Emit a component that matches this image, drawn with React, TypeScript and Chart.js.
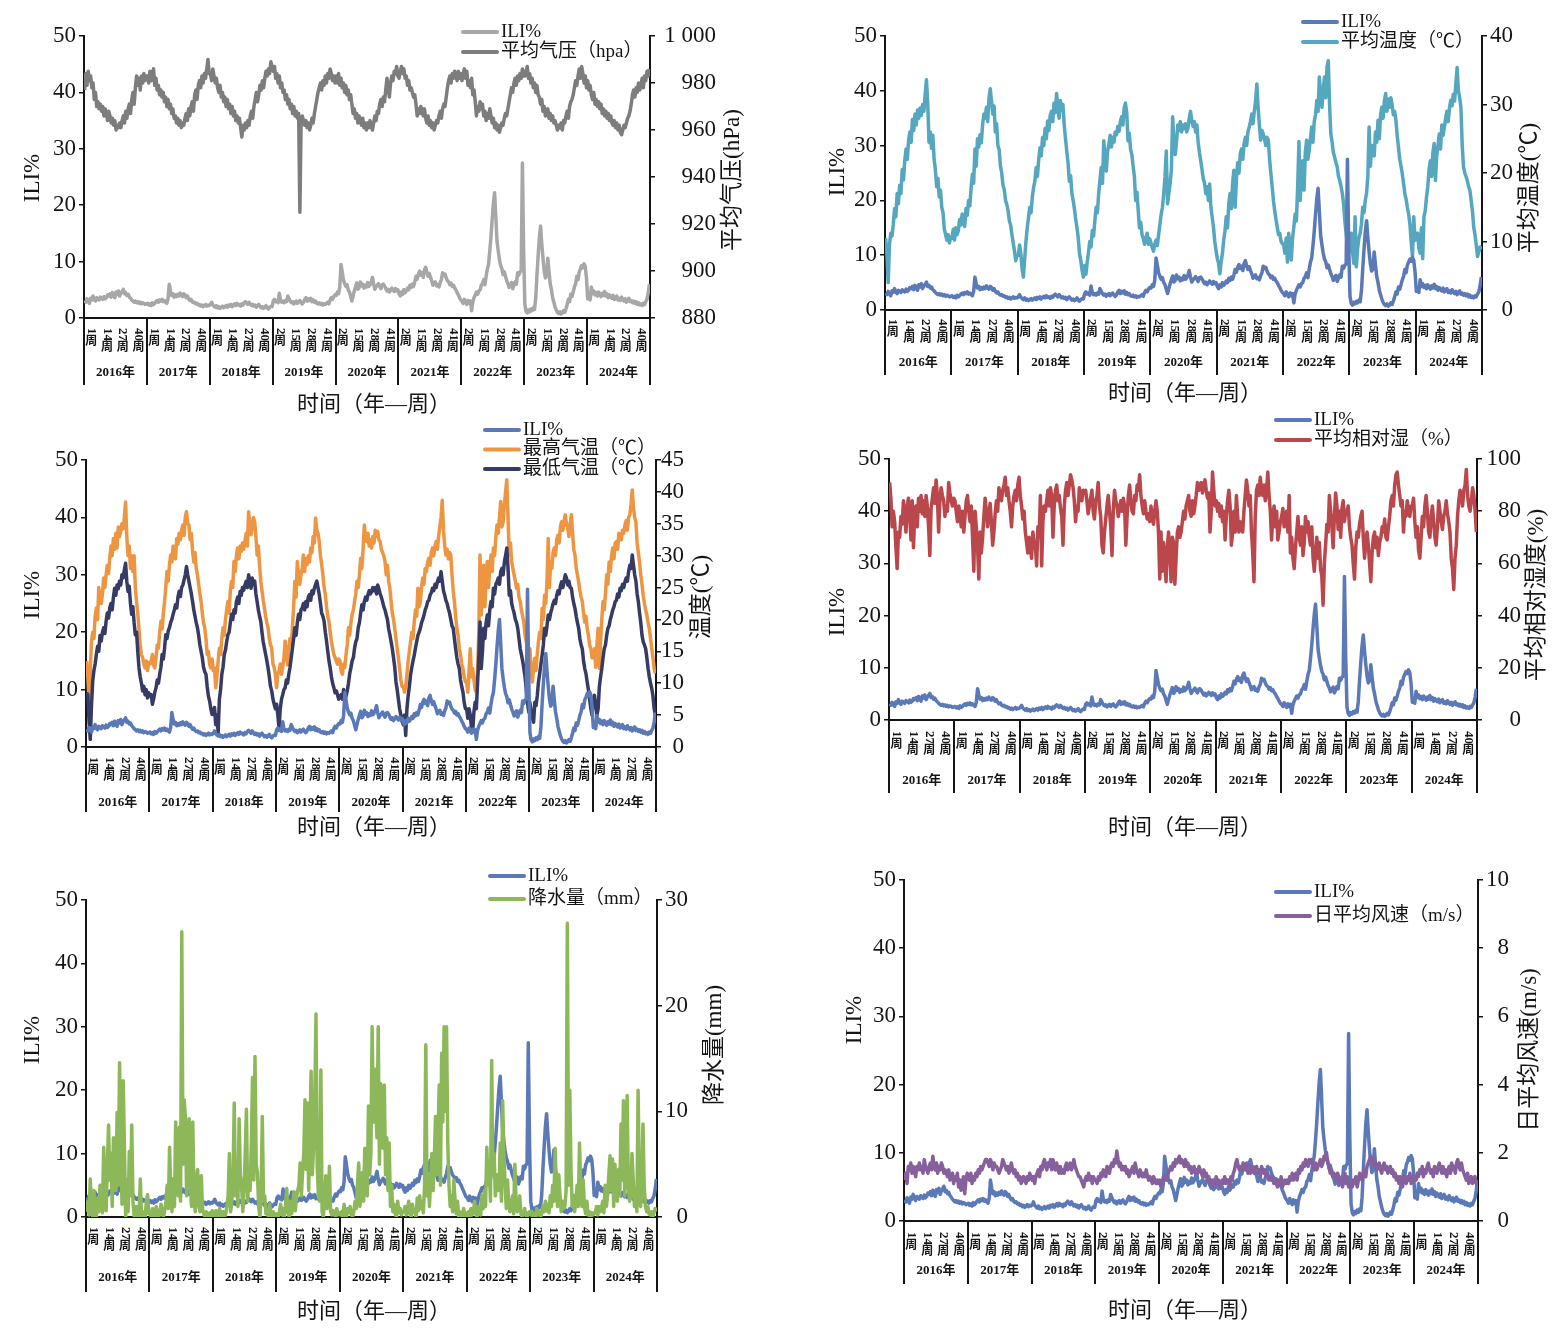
import React, { useEffect, useRef } from "react";
import { Chart, registerables } from "chart.js";

Chart.register(...registerables);

// ---- categories / ticks ----
const YEARS = ["2016年", "2017年", "2018年", "2019年", "2020年", "2021年", "2022年", "2023年", "2024年"];
const WEEKS_PER_YEAR = 52;
const WEEK_TICKS = [
  ["1", "14", "27", "40"],
  ["1", "14", "27", "40"],
  ["1", "14", "27", "40"],
  ["2", "15", "28", "41"],
  ["2", "15", "28", "41"],
  ["2", "15", "28", "41"],
  ["2", "15", "28", "41"],
  ["2", "15", "28", "41"],
  ["1", "14", "27", "40"],
];

// ---- weekly series, one row per year (52 weeks) ----
const iliPct = [
  [3.1,2.8,3.4,3.0,2.6,3.5,3.2,3.9,3.3,3.0,3.6,3.4,3.2, 3.7,3.5,3.3,3.8,3.4,3.6,4.1,3.9,4.3,3.7,4.5,4.1,3.6, 4.6,4.2,4.8,3.9,4.4,4.7,5.1,4.3,4.5,4.0,4.2,3.7,3.5, 3.2,3.0,2.8,3.0,2.7,2.9,2.6,2.8,2.5,2.7,2.6,2.4,2.5],
  [2.6,2.3,2.5,2.2,2.7,2.4,2.6,2.9,3.1,2.8,3.2,3.0,3.3, 2.9,3.1,2.8,2.6,3.4,6.0,4.8,4.0,4.3,3.7,4.1,3.8,4.2, 3.9,4.4,4.0,3.8,4.3,4.1,3.6,3.9,3.4,3.1,3.3,2.9,2.7, 2.8,2.5,2.6,2.3,2.4,2.1,2.3,2.0,2.2,2.4,2.1,2.3,2.2],
  [2.4,2.8,2.3,2.1,1.9,2.2,1.8,2.0,1.7,1.9,2.1,1.8,2.0, 2.2,1.9,2.3,2.1,2.4,2.0,2.3,2.5,2.2,2.6,2.3,2.4,2.1, 2.5,2.3,2.7,2.9,2.6,2.4,2.8,2.5,2.2,2.4,2.1,2.3,1.9, 2.2,2.4,2.1,1.8,2.0,1.7,1.9,2.2,1.8,1.6,1.9,2.1,2.0],
  [3.0,3.3,2.9,3.1,2.7,4.4,3.2,2.8,3.0,2.7,3.1,2.9,3.9, 3.4,3.0,2.7,2.9,2.5,2.8,3.0,2.6,2.9,3.1,2.7,2.5,2.8, 3.3,3.6,3.0,3.4,3.1,3.5,2.9,3.2,2.8,3.0,2.6,2.5,2.7, 2.4,2.6,2.3,2.5,2.4,2.6,2.8,2.5,3.2,3.6,3.3,3.8,4.1],
  [4.0,4.6,4.3,5.5,9.5,8.2,6.8,6.1,5.6,5.9,5.0,4.6,3.8, 3.0,3.9,4.8,5.5,6.2,5.1,5.4,6.4,5.7,6.0,5.3,5.8,5.5, 6.3,5.6,5.9,6.4,7.2,6.0,5.1,5.5,5.8,6.1,5.6,5.2,5.9, 6.0,5.7,5.2,4.8,5.1,4.6,4.9,5.3,5.0,4.7,5.2,4.8,5.0],
  [4.3,3.9,4.6,4.2,5.0,4.5,4.8,5.3,5.0,5.8,5.4,6.0,5.6, 6.4,7.4,6.9,7.8,8.3,7.6,8.0,7.2,8.5,9.0,8.1,7.4,7.9, 7.2,6.6,5.8,6.2,6.4,5.7,5.9,5.5,6.3,6.8,8.0,7.6,7.8, 7.1,6.6,6.4,5.9,6.2,5.6,5.8,5.3,5.0,4.5,4.1,3.6,3.2],
  [3.0,2.6,3.3,2.8,2.4,3.1,2.6,3.0,1.3,2.9,3.6,4.1,4.6, 4.2,4.8,5.0,5.8,6.1,6.8,5.9,7.4,8.7,9.5,11.8,14.4,17.5, 20.3,22.2,18.0,13.6,11.9,10.4,9.3,8.8,7.7,8.2,7.4,6.6,6.1, 5.4,5.9,6.3,5.2,5.8,6.4,6.0,8.0,7.6,8.2,8.4,27.5,12.0],
  [2.5,1.2,0.9,1.4,1.1,1.6,1.3,1.8,1.5,3.5,7.5,11.0,14.2, 16.3,13.2,10.6,8.4,7.1,7.5,10.6,8.2,6.1,5.0,3.6,2.8,2.0, 1.4,1.0,0.8,1.1,0.7,0.9,1.3,1.0,1.6,2.4,3.3,2.9,4.2, 3.8,4.6,5.5,6.1,7.4,6.8,8.2,8.7,9.3,8.9,9.6,9.1,7.0],
  [3.4,3.9,3.2,5.5,4.3,4.8,4.1,4.5,3.9,4.6,4.2,3.8,4.4, 4.0,4.7,3.9,4.3,3.6,4.1,3.7,3.5,4.0,3.3,3.6,3.9,3.2, 3.5,3.1,3.7,3.3,3.0,3.4,2.8,3.2,3.5,2.9,3.1,2.7,3.0, 2.6,2.9,2.4,2.7,2.3,2.5,2.2,2.6,2.4,2.9,3.3,4.4,6.0],
];

const pressureHpa = [
  [977,984,979,985,981,983,978,980,973,976,970,972,969, 971,968,970,966,969,967,964,968,966,963,965,962,964, 960,962,961,963,961,964,966,963,968,965,969,971,967, 973,976,971,978,983,979,982,977,983,980,984,981,983],
  [983,980,985,981,984,986,979,982,977,979,975,977,974, 976,972,974,970,973,969,971,967,969,965,966,963,965, 962,964,961,963,962,965,967,964,969,966,970,972,968, 975,977,973,979,981,978,983,980,984,982,986,990,984],
  [984,981,986,983,980,982,978,976,979,974,976,972,974, 970,973,969,971,967,970,966,968,964,966,963,965,961, 957,962,960,963,961,964,962,966,968,965,970,973,976, 972,975,979,977,981,978,982,985,983,986,984,989,987],
  [985,987,982,984,980,983,978,980,976,977,973,975,971, 973,969,971,967,970,966,968,965,967,925,963,966,964, 962,964,961,963,960,962,965,963,967,970,973,976,978, 980,977,981,979,983,980,984,982,986,984,981,983,980],
  [983,980,984,979,982,978,980,976,979,975,977,973,975, 971,967,969,965,967,963,966,964,962,965,961,963,960, 963,961,964,962,960,963,966,964,968,967,971,973,970, 974,972,977,982,978,974,980,983,981,985,984,987,983],
  [982,985,987,984,986,982,983,979,981,977,978,976,974, 975,971,966,969,967,970,968,966,969,965,963,966,962, 964,961,963,960,962,964,963,966,968,965,969,971,970, 974,978,981,983,980,984,982,985,983,981,985,982,984],
  [981,984,986,982,985,979,981,978,982,975,977,972,966, 970,968,972,969,971,966,968,964,967,965,969,966,963, 965,961,963,960,962,959,961,963,962,965,967,966,969, 972,975,978,976,980,982,979,983,981,984,982,986,983],
  [983,985,987,982,984,980,982,978,980,976,979,975,974, 971,973,968,970,966,967,969,965,967,964,966,963,964, 962,960,962,961,963,960,964,963,966,968,965,970,972, 973,975,978,981,979,983,986,982,987,984,980,983,978],
  [981,977,979,975,973,976,971,973,970,972,969,971,967, 969,966,968,965,967,964,966,963,962,964,961,963,960, 962,959,958,960,962,961,963,965,966,968,971,975,977, 974,978,976,980,977,979,982,978,983,981,985,983,986],
];

const meanTempC = [
  [10.5,8.2,4.0,9.5,11.2,10.8,12.5,14.8,13.6,17.0,15.5,18.2,17.0, 20.5,19.0,21.8,23.5,22.0,24.8,26.0,24.5,27.8,26.2,28.6,27.0,29.2, 28.0,29.5,28.4,30.0,29.0,31.5,33.6,30.2,24.5,26.0,23.6,25.5,22.0, 20.5,18.0,19.2,16.5,17.5,15.0,14.2,11.8,11.0,10.2,11.0,9.8,10.6],
  [10.5,11.8,10.2,12.0,11.0,11.6,13.2,12.4,14.0,13.0,12.2,14.8,13.8, 16.0,15.2,17.8,19.8,18.5,23.5,21.0,25.0,23.8,25.6,24.4,27.0,28.6, 28.0,29.6,27.5,30.8,32.3,30.5,28.6,29.8,26.0,27.2,24.0,23.4,21.0, 20.0,18.2,17.6,16.0,15.4,14.5,13.0,12.4,11.0,9.8,8.6,7.2,8.0],
  [8.0,9.5,8.2,6.0,4.8,7.5,10.0,12.0,13.5,15.0,14.2,16.5,17.9, 18.8,20.8,19.5,22.0,23.7,22.5,25.2,24.0,26.5,25.0,27.6,26.2,28.4, 29.0,27.5,30.2,28.8,31.6,29.5,28.0,30.6,29.2,30.0,27.0,25.0,23.2, 21.5,18.8,19.6,17.0,16.0,14.8,13.2,12.0,10.5,8.2,7.2,5.8,4.8],
  [6.5,5.2,7.0,8.4,10.0,9.2,11.6,10.8,13.0,15.0,14.2,17.0,19.0, 20.8,18.5,24.7,22.0,20.3,23.2,24.2,25.5,23.8,25.2,24.5,26.0,25.6, 26.8,26.1,27.5,28.2,27.0,29.5,30.2,28.8,24.7,25.8,23.5,22.7,21.0, 19.5,16.0,17.2,14.5,12.0,12.8,11.0,10.4,9.6,10.5,11.2,9.6,10.4],
  [9.8,9.1,8.6,9.6,10.2,9.4,11.0,12.5,14.0,15.0,17.0,19.5,23.2, 15.5,17.0,18.4,20.5,28.2,24.0,22.7,24.5,27.0,26.2,27.5,26.0,27.0, 26.5,27.2,26.0,26.6,28.0,29.0,27.6,26.8,27.5,26.0,27.0,24.5,23.0, 21.8,20.5,19.2,18.5,17.0,18.0,16.0,18.4,15.0,13.5,12.1,10.0,8.7],
  [7.5,6.8,5.3,7.0,8.2,10.2,11.5,13.6,12.0,15.5,17.0,14.8,18.5, 20.4,15.0,19.2,21.5,20.0,22.8,23.5,22.0,24.3,25.2,24.0,26.0,26.7, 27.5,28.6,27.2,29.0,30.5,33.0,29.5,27.0,24.8,26.2,25.7,25.0,24.0, 25.2,24.8,22.0,19.9,18.0,16.0,14.5,13.2,12.1,11.0,11.2,10.0,9.7],
  [9.5,8.3,10.5,7.0,11.2,9.0,7.3,10.5,12.1,14.0,13.0,18.0,24.6, 16.0,20.5,21.8,17.5,23.0,24.8,22.0,23.3,25.0,26.7,24.5,27.5,28.5, 30.6,29.0,34.0,31.5,29.6,32.0,34.0,31.0,35.5,36.4,30.0,25.7,24.5, 23.0,22.3,21.5,20.9,19.5,18.9,18.0,17.0,15.5,13.0,11.2,9.5,8.3],
  [9.0,11.2,8.5,6.8,13.6,6.3,9.0,10.5,11.2,12.5,15.0,14.2,16.0, 17.0,19.5,26.7,21.0,24.0,23.3,22.5,26.0,24.5,27.7,25.0,28.5,29.6, 28.0,30.5,31.6,29.0,30.8,29.6,31.0,30.0,28.5,29.0,27.7,25.5,23.8, 22.0,21.0,19.9,18.5,17.0,16.2,15.0,14.0,12.5,10.0,7.8,13.6,10.2],
  [10.5,11.2,9.0,8.3,12.0,7.5,13.6,14.5,16.5,18.0,20.5,21.8,19.5, 23.0,24.3,18.9,22.5,24.0,25.7,23.5,27.0,25.5,26.7,28.0,29.0,27.5, 29.5,30.6,29.8,31.5,30.5,33.0,35.4,32.0,31.0,29.5,24.0,20.9,20.0, 19.5,18.9,18.0,17.5,16.0,14.5,12.1,11.0,9.5,7.8,8.5,9.2,8.8],
];

const maxTempC = [
  [13.5,11.0,7.5,12.0,16.5,18.0,17.0,20.5,21.8,20.0,25.0,23.0,22.5, 24.0,26.5,25.0,27.0,28.5,27.2,29.6,31.5,30.0,32.7,31.0,33.5,31.2, 34.5,33.0,33.8,35.0,34.2,36.0,38.4,33.0,30.0,31.5,28.0,30.0,27.5, 30.0,25.0,22.8,21.0,18.5,16.0,14.5,14.0,13.0,12.4,13.5,12.0,13.2],
  [13.0,13.5,14.5,12.8,12.4,14.0,16.0,15.5,18.0,19.7,18.5,21.0,22.8, 25.0,27.5,26.0,28.5,30.1,29.0,31.5,30.7,29.5,32.7,31.8,33.5,32.5, 34.0,34.8,33.2,36.0,36.9,35.0,34.8,32.5,33.5,30.7,29.0,30.5,28.0, 27.0,25.5,24.0,22.8,21.0,19.5,18.7,17.0,14.5,15.0,13.0,12.4,13.8],
  [12.0,12.4,9.3,11.0,13.5,15.5,14.5,17.0,18.7,17.5,20.0,21.5,22.8, 21.0,24.5,26.0,25.0,29.1,27.5,30.0,31.2,29.5,31.5,30.7,32.0,31.0, 32.2,33.5,31.5,36.9,35.0,33.3,34.5,36.0,35.3,33.0,30.1,31.5,28.5, 26.0,24.5,23.0,21.8,20.5,19.5,18.7,17.0,16.0,15.5,13.0,12.5,11.4],
  [9.3,11.5,11.9,13.0,11.4,12.5,14.0,16.6,14.5,12.9,15.5,17.0,16.0, 18.7,22.0,26.0,23.5,29.1,27.0,25.5,27.0,28.0,30.1,27.5,29.5,28.6, 30.0,29.0,31.2,30.5,33.0,32.0,35.9,34.0,33.5,32.2,30.0,28.6,27.0, 25.0,23.9,22.0,20.5,19.7,18.0,16.5,15.5,14.5,14.0,13.5,13.0,13.8],
  [13.5,12.0,11.4,13.0,12.5,14.5,16.0,18.7,17.5,19.5,20.8,21.5,22.8, 24.0,26.0,25.0,27.0,29.6,28.0,31.0,34.8,33.0,32.2,33.5,31.5,32.5, 31.2,33.0,32.0,34.0,33.0,33.8,32.5,32.2,31.0,30.5,30.0,29.1,27.0, 28.5,26.0,24.9,22.8,21.0,20.0,18.6,17.0,15.5,14.0,12.3,10.5,9.5],
  [9.5,8.6,9.5,11.3,13.5,15.0,16.5,18.0,17.0,19.6,21.5,20.5,24.9, 22.0,22.8,25.0,26.5,25.5,28.0,27.5,29.0,29.6,28.5,30.5,31.2,30.0, 31.5,32.2,31.0,33.0,34.5,36.0,38.7,34.0,31.5,30.1,31.0,29.5,30.5, 30.1,27.0,24.5,22.8,20.5,18.6,17.5,15.4,14.5,13.0,12.3,11.0,10.2],
  [10.2,8.6,12.0,15.4,11.0,12.3,10.5,9.0,8.6,12.0,18.0,30.1,20.7, 24.0,28.5,22.0,26.5,29.1,25.0,28.0,30.1,27.5,31.2,30.0,33.0,34.8, 33.5,36.0,38.5,34.5,35.3,38.0,40.0,41.9,36.0,30.1,32.0,29.0,28.0, 27.0,26.0,24.9,25.5,23.5,22.8,21.5,20.5,19.6,17.5,16.5,15.4,13.0],
  [15.4,12.0,10.2,12.5,13.9,12.0,14.5,16.5,18.0,17.0,21.7,20.0,23.8, 22.5,26.0,32.7,25.0,29.0,28.0,30.5,31.2,30.0,32.5,33.2,32.0,34.5, 35.3,34.0,35.5,36.4,35.0,34.3,33.0,35.0,36.4,33.5,31.0,30.1,28.0, 27.0,25.9,24.5,23.5,22.8,21.0,19.6,20.5,18.6,17.5,16.0,15.4,14.0],
  [14.0,15.4,12.5,16.0,18.6,12.3,16.5,20.0,22.8,21.5,24.0,27.0,25.5, 29.0,27.5,30.0,31.2,29.5,32.0,32.2,31.0,33.5,33.2,32.5,34.0,33.5, 34.8,35.5,34.0,36.0,36.4,38.0,40.3,37.5,36.0,35.3,32.0,30.5,29.0, 27.0,25.5,23.8,22.5,21.5,20.7,19.5,18.6,17.0,15.4,14.0,12.3,11.5],
];

const minTempC = [
  [8.5,8.2,4.0,1.2,6.5,10.3,12.0,13.0,14.5,15.8,15.0,17.5,16.6, 18.0,18.7,17.8,19.7,21.0,20.2,21.8,22.5,21.5,23.5,24.9,23.8,25.4, 24.8,26.0,25.4,27.0,26.5,27.8,28.8,26.0,24.4,25.2,22.5,20.8,22.0, 19.5,17.6,18.0,15.0,12.4,11.0,10.0,8.8,9.5,8.2,9.0,7.7,8.5],
  [8.0,8.2,6.7,7.5,8.6,9.3,10.5,10.0,11.4,12.5,14.5,13.8,15.5, 17.6,17.0,18.2,18.7,19.5,20.0,20.8,21.5,22.3,21.8,23.5,24.4,23.6, 25.0,25.4,26.2,27.0,28.3,27.0,26.0,25.0,24.0,22.8,21.5,20.5,19.5, 18.7,17.5,16.0,15.0,14.0,12.5,11.8,11.4,9.5,8.0,7.2,6.0,5.1],
  [5.5,6.2,3.5,5.0,2.2,7.5,9.0,11.4,12.5,14.5,15.2,16.5,17.6, 18.0,19.5,20.8,20.0,21.5,21.0,22.8,23.5,22.5,24.4,23.8,25.0,24.6, 25.4,26.0,25.0,27.0,26.2,24.9,26.5,25.5,26.0,24.0,22.8,21.5,20.5, 19.7,18.0,16.5,15.5,14.5,13.5,12.4,11.0,9.5,8.8,7.5,6.7,6.0],
  [6.7,5.0,3.0,6.0,7.5,8.2,9.0,9.3,10.5,10.0,11.4,12.5,14.0, 15.5,17.0,18.7,17.5,19.5,20.8,20.0,21.5,21.8,22.5,21.5,22.8,22.0, 23.5,23.9,23.0,24.5,24.0,24.9,25.5,26.0,25.0,23.9,22.5,21.0,20.5, 19.7,18.0,16.6,15.0,13.5,12.4,11.0,10.0,9.3,8.5,8.8,8.2,7.5],
  [8.0,8.2,7.5,9.0,7.2,8.0,8.8,10.0,11.5,12.4,13.5,14.0,15.5, 16.5,17.0,18.7,19.5,21.0,22.3,21.5,22.8,23.5,23.0,23.9,24.5,24.0, 24.4,25.0,24.5,25.0,24.0,25.4,24.8,24.0,23.5,22.8,22.0,21.5,20.7, 20.0,18.5,17.6,16.5,15.4,14.0,12.5,10.2,9.0,7.5,6.0,5.0,4.0],
  [3.5,5.0,1.8,6.0,8.0,9.5,11.3,12.5,13.5,14.4,15.5,16.5,17.5, 18.0,18.6,19.5,20.0,20.7,21.5,22.0,22.8,23.0,23.8,24.2,24.9,24.5, 25.5,25.0,25.9,26.5,26.0,27.5,26.0,24.5,23.8,23.0,22.5,21.7,21.0, 20.0,19.0,18.6,17.0,15.4,14.0,13.0,12.3,10.5,9.5,8.6,7.0,6.0],
  [6.0,4.5,6.0,5.0,3.0,2.4,5.5,7.0,6.0,10.0,14.0,19.6,12.3, 15.0,18.6,17.0,19.5,20.7,19.0,21.5,22.8,22.0,24.9,24.0,25.5,25.9, 26.5,25.5,27.5,28.0,27.0,29.0,30.0,31.2,28.0,23.8,24.5,22.5,21.7, 21.0,20.0,19.5,18.6,17.0,15.4,14.5,13.5,12.3,11.0,9.0,7.0,5.5],
  [7.0,5.5,4.5,3.9,7.0,6.5,8.0,10.2,11.5,13.0,14.4,16.0,18.6, 17.5,19.0,20.7,20.0,21.0,21.7,22.5,23.0,22.5,23.8,24.5,24.0,25.2, 25.9,25.0,26.0,27.0,26.5,25.4,26.0,25.0,24.9,23.5,22.5,21.7,20.5, 19.5,18.6,17.0,16.0,15.4,13.5,12.3,11.5,10.2,9.0,7.5,6.0,5.0],
  [7.5,8.1,6.5,5.0,6.0,9.5,11.0,12.3,14.0,15.4,16.0,17.5,18.6, 19.0,20.0,20.7,21.5,22.0,22.8,23.0,24.0,23.5,24.9,24.5,25.5,25.0, 25.9,26.5,26.0,27.5,28.5,28.0,30.1,28.5,27.0,26.0,24.0,22.8,21.0, 19.5,17.5,16.5,16.0,15.4,14.0,12.3,11.0,10.0,9.2,8.0,6.0,5.0],
];

const humidityPct = [
  [91,85,74,80,76,66,58,72,70,78,75,84,79, 72,82,85,78,69,84,66,80,82,74,85,80,86, 79,84,78,86,82,74,63,81,85,89,83,92,86, 72,84,89,86,84,78,82,80,91,87,84,82,85],
  [84,80,76,82,79,74,80,72,78,84,86,80,76, 82,70,57,80,74,66,54,72,64,70,78,85,80, 74,79,83,76,67,72,79,84,80,89,85,84,88, 90,93,86,89,84,80,74,82,86,88,84,90,93],
  [86,82,77,80,72,68,64,70,66,62,72,68,67, 59,74,70,86,59,76,82,80,84,88,82,89,86, 70,82,88,90,84,86,81,78,67,82,88,91,86, 90,94,92,89,84,76,82,80,89,86,84,88,87],
  [88,84,79,82,85,88,80,77,84,86,91,82,78, 67,64,72,77,82,86,80,74,63,80,88,84,82, 78,81,84,80,85,82,67,78,86,90,84,80,79, 86,84,90,88,94,86,82,79,84,80,77,79,76],
  [82,78,75,80,84,80,72,54,72,57,68,62,53, 66,72,64,53,70,68,52,62,72,74,70,72,76, 80,77,82,84,86,80,78,84,79,82,86,91,88, 90,91,87,89,92,88,85,87,72,80,95,88,82],
  [84,80,83,78,82,76,80,69,78,84,88,82,67, 72,80,72,86,78,72,76,74,72,80,86,92,88, 82,86,72,64,53,78,88,90,86,93,88,86,90, 84,88,95,86,80,69,78,82,74,80,69,72,76],
  [78,81,74,77,80,72,86,64,70,62,58,66,72, 78,70,67,74,63,68,78,72,76,70,67,74,62, 57,64,70,62,68,58,55,44,60,67,75,72,86, 80,74,66,78,87,82,73,80,70,81,84,76,80],
  [80,82,74,70,67,60,54,66,72,70,75,78,80, 70,62,68,72,67,60,53,64,70,72,66,70,63, 68,70,74,72,77,70,69,74,78,84,86,82,90, 94,95,90,86,82,84,72,80,78,84,80,78,82],
  [82,85,76,70,74,65,62,70,78,74,82,86,80, 72,70,78,82,76,70,67,74,84,80,76,73,78, 80,84,79,76,72,62,58,50,62,67,78,84,88, 86,82,88,90,96,86,82,80,84,89,86,80,72],
];

const rainMm = [
  [0.5,1.5,0.2,3.6,1.0,0.0,2.5,0.3,0.0,1.8,0.5,3.0,1.2, 0.4,6.6,2.0,0.6,5.0,8.7,3.5,6.0,1.0,7.5,4.0,2.5,9.9, 3.0,14.6,8.0,1.2,12.9,6.5,0.0,3.5,0.5,6.2,2.0,8.7,1.5, 0.0,0.3,1.0,0.0,0.2,3.6,0.0,0.5,0.2,0.0,1.5,2.1,0.3],
  [0.3,0.0,0.8,0.2,0.0,1.0,0.5,0.0,0.3,1.2,0.4,0.0,0.6, 1.5,3.0,0.8,6.6,2.5,0.5,3.6,1.0,9.0,4.0,2.0,8.5,1.5, 27.0,5.0,11.1,9.3,2.0,6.0,9.3,3.0,1.0,9.0,2.0,0.5,3.5, 4.5,1.0,0.5,3.9,0.8,0.3,0.0,0.5,0.2,0.0,0.4,0.0,0.6],
  [0.2,0.0,0.6,0.3,0.0,0.8,0.2,0.0,0.5,0.0,0.3,1.0,2.0, 6.0,0.5,1.5,3.5,10.8,2.0,5.0,1.0,9.3,4.0,3.0,0.5,2.5, 6.0,10.2,1.5,4.0,2.5,7.0,13.2,3.5,15.2,5.0,4.2,1.0,0.0, 2.0,9.5,1.5,2.0,0.3,0.5,0.0,1.2,0.3,0.0,0.5,0.2,0.0],
  [0.3,0.0,0.5,1.2,0.2,0.8,0.0,1.0,2.7,0.5,0.0,1.5,0.3, 1.0,2.4,0.6,1.8,2.5,3.0,5.1,2.0,4.2,6.0,11.1,4.5,10.8, 2.5,8.0,13.8,4.0,6.5,11.0,19.2,4.8,2.0,1.5,13.9,0.5,0.0, 1.5,3.9,0.8,1.0,4.8,0.5,0.2,0.6,0.3,0.0,0.8,0.2,0.4],
  [0.2,0.5,0.0,1.2,0.3,0.0,0.8,0.4,1.0,0.2,0.0,0.5,1.5, 0.8,3.0,5.1,1.0,2.5,4.2,1.5,6.5,3.5,2.0,10.5,4.0,6.0, 18.0,9.0,14.0,10.2,7.5,18.0,5.0,12.6,10.0,6.5,12.5,4.0,7.5, 2.5,7.0,1.0,3.0,0.5,1.2,0.3,0.0,1.5,0.4,0.8,0.2,0.5],
  [0.5,1.0,0.2,0.8,1.5,0.3,0.0,1.2,0.5,0.5,0.0,1.8,0.6, 2.0,0.8,1.5,0.4,3.0,16.3,2.0,4.0,1.0,3.5,6.0,2.5,5.5, 9.5,4.0,7.5,12.5,3.0,15.5,9.0,18.0,10.0,18.0,7.0,3.0,1.0, 2.0,0.5,3.5,1.5,0.3,1.5,0.0,0.5,0.2,0.0,0.8,0.3,0.0],
  [0.3,0.5,0.0,0.8,0.2,0.5,1.5,0.3,0.0,1.0,0.5,0.2,2.0, 0.8,2.5,1.0,6.6,3.0,5.0,1.5,14.8,4.0,6.0,2.0,3.5,4.0, 2.5,7.0,1.5,11.0,6.0,3.0,0.8,3.5,1.2,0.5,1.0,2.0,0.3, 5.0,1.5,0.5,1.0,2.0,0.3,0.0,0.3,0.8,0.2,0.0,0.4,0.5],
  [0.2,0.5,0.0,0.3,0.0,0.8,0.2,0.5,0.0,0.3,1.0,0.5,1.5, 0.6,1.2,0.4,2.0,1.0,3.0,1.5,6.5,2.5,1.0,4.0,2.0,0.5, 1.5,0.8,1.0,2.5,27.8,3.0,12.0,4.5,1.0,2.0,0.5,1.5,3.0, 1.0,7.0,2.5,1.0,3.5,1.0,0.3,1.5,0.2,0.5,0.0,0.4,0.2],
  [0.3,0.5,1.0,0.2,1.0,0.5,0.8,1.5,0.4,3.0,1.0,2.0,4.0, 5.8,2.5,5.5,1.0,5.0,3.0,1.5,4.5,2.0,8.8,3.5,11.0,2.0, 4.0,11.5,3.0,1.5,2.0,6.0,3.5,1.0,2.5,0.5,12.0,4.0,1.0, 2.0,8.8,3.0,1.0,0.5,1.0,0.3,0.2,0.5,0.0,0.4,0.8,0.5],
];

const windMs = [
  [1.2,1.4,1.1,1.6,1.5,1.7,1.4,1.6,1.5,1.3,1.6,1.5,1.7, 1.5,1.6,1.4,1.8,1.6,1.5,1.4,1.6,1.7,1.5,1.9,1.6,1.5, 1.7,1.4,1.6,1.5,1.7,1.6,1.4,1.5,1.4,1.3,1.5,1.2,1.3, 1.4,1.1,1.3,1.2,1.4,1.0,1.2,0.9,1.1,1.3,0.8,1.2,1.4],
  [1.3,1.2,1.4,1.1,1.3,1.2,1.4,1.3,1.5,1.4,1.6,1.5,1.6, 1.7,1.8,1.8,1.7,1.6,1.8,1.7,1.5,1.7,1.6,1.6,1.5,1.4, 1.5,1.6,1.8,1.7,1.6,1.5,1.6,1.4,1.5,1.7,1.5,1.4,1.5, 1.3,1.4,1.2,1.3,1.1,1.2,1.3,1.2,1.1,1.3,1.2,1.4,1.3],
  [1.2,1.3,1.1,1.3,1.4,1.5,1.3,1.6,1.5,1.7,1.8,1.6,1.5, 1.7,1.6,1.8,1.5,1.8,1.6,1.5,1.7,1.5,1.4,1.6,1.4,1.5, 1.4,1.6,1.7,1.5,1.6,1.7,1.5,1.6,1.8,1.6,1.5,1.4,1.3, 1.3,1.2,1.1,1.0,1.2,1.3,1.2,1.4,1.2,1.3,1.1,1.3,1.2],
  [1.2,1.1,1.3,1.2,1.4,1.3,1.5,1.4,1.3,1.6,1.5,1.4,1.6, 1.7,1.6,1.8,1.7,2.05,1.8,1.6,1.7,1.5,1.6,1.5,1.6,1.4, 1.5,1.3,1.4,1.5,1.6,1.4,1.7,1.5,1.4,1.3,1.5,1.4,1.3, 1.4,1.3,1.5,1.3,1.2,1.3,1.2,1.1,1.3,1.2,1.1,1.2,1.1],
  [1.2,1.0,1.1,1.3,1.2,1.3,1.2,1.4,1.5,1.6,1.5,1.7,1.6, 1.8,1.7,1.8,1.9,1.7,1.8,1.7,1.6,1.8,1.6,1.7,1.5,1.6, 1.4,1.5,1.6,1.4,1.5,1.4,1.6,1.5,1.4,1.3,1.5,1.3,1.4, 1.2,1.3,1.1,1.2,1.0,1.2,1.1,1.3,1.1,1.2,1.0,1.1,1.2],
  [1.1,1.3,1.1,1.2,1.2,1.0,1.3,1.2,1.4,1.5,1.7,1.8,1.6, 1.5,1.6,1.5,1.7,1.6,1.5,1.7,1.4,1.5,1.4,1.6,1.5,1.4, 1.5,1.6,1.4,1.5,1.3,1.6,1.5,1.4,1.5,1.3,1.4,1.2,1.3, 1.2,1.3,1.1,1.2,1.1,1.0,1.2,1.1,1.3,1.0,1.1,1.2,1.1],
  [1.2,1.1,1.3,1.2,1.4,1.2,1.3,1.4,1.2,1.5,1.4,1.6,1.5, 1.7,1.6,1.8,1.7,1.6,1.8,1.7,1.8,1.6,1.5,1.7,1.5,1.6, 1.7,1.8,1.6,1.7,1.9,1.8,2.0,1.7,1.6,1.4,1.5,1.3,1.4, 1.3,1.2,1.4,1.3,1.1,1.2,1.0,1.2,1.4,1.1,1.3,1.0,1.1],
  [1.1,1.0,1.2,1.1,1.3,1.0,1.2,1.4,1.3,1.2,1.4,1.5,1.3, 1.6,1.7,1.8,1.9,1.7,1.8,1.6,1.7,1.5,1.6,1.7,1.5,1.4, 1.6,1.7,1.5,1.6,1.4,1.5,1.6,1.4,1.5,1.3,1.4,1.2,1.3, 1.1,1.3,1.2,1.0,1.3,1.2,1.1,1.3,1.2,1.4,1.1,1.2,1.3],
  [1.3,1.2,1.4,1.3,1.5,1.4,1.6,1.3,1.5,1.4,1.6,1.7,1.5, 1.4,1.5,1.3,1.6,1.5,1.4,1.6,1.7,1.5,1.4,1.6,1.4,1.5, 1.3,1.5,1.6,1.4,1.7,1.5,1.6,1.4,1.7,1.8,1.6,1.5,1.7, 1.5,1.4,1.3,1.2,1.4,1.1,1.2,1.3,1.1,1.2,1.3,1.1,1.2],
];

// ---- styling ----
const INK = "#151515";
const SERIF = '"Liberation Serif", "Noto Sans CJK SC", serif';
const C = {
  greyLight: "#a7a7a7",
  greyDark: "#7d7d7d",
  blue: "#5a79b6",
  teal: "#55a6bf",
  orange: "#ee9541",
  navy: "#363b65",
  red: "#b9474b",
  green: "#8cb85a",
  purple: "#86609c",
};

type Series = { label: string; values: number[][]; color: string; axis: "yL" | "yR"; order: number };
type Panel = {
  box: { x: number; y: number; w: number; h: number };
  area: { l: number; t: number; r: number; b: number };
  rightEdge: number;
  right: { min: number; max: number; step: number; title: string; tx: number; ty: number };
  yTitle: { x: number; y: number };
  xTitle: { x: number; y: number };
  weekTop: number;
  yearY: number;
  sepBottom: number;
  legend: { x: number; y: number; gap: number };
  series: Series[];
};

const TOTAL_WEEKS = YEARS.length * WEEKS_PER_YEAR;

const toPoints = (rows: number[][]) =>
  rows.flatMap((row, yi) => row.map((v, k) => ({ x: yi * WEEKS_PER_YEAR + k + 0.5, y: v })));

const PANELS: Panel[] = [
  {
    box: { x: 0, y: 0, w: 780, h: 420 },
    area: { l: 84, t: 36, r: 650, b: 318 },
    rightEdge: 716,
    right: { min: 880, max: 1000, step: 20, title: "平均气压(hPa)", tx: 733, ty: 180 },
    yTitle: { x: 33, y: 178 },
    xTitle: { x: 374, y: 405 },
    weekTop: 328, yearY: 373, sepBottom: 385,
    legend: { x: 463, y: 32, gap: 20 },
    series: [
      { label: "ILI%", values: iliPct, color: C.greyLight, axis: "yL", order: 1 },
      { label: "平均气压（hpa）", values: pressureHpa, color: C.greyDark, axis: "yR", order: 0 },
    ],
  },
  {
    box: { x: 780, y: 0, w: 780, h: 410 },
    area: { l: 885, t: 36, r: 1482, b: 310 },
    rightEdge: 1513,
    right: { min: 0, max: 40, step: 10, title: "平均温度(℃)", tx: 1530, ty: 188 },
    yTitle: { x: 838, y: 172 },
    xTitle: { x: 1185, y: 394 },
    weekTop: 319, yearY: 363, sepBottom: 375,
    legend: { x: 1303, y: 22, gap: 20 },
    series: [
      { label: "ILI%", values: iliPct, color: C.blue, axis: "yL", order: 0 },
      { label: "平均温度（℃）", values: meanTempC, color: C.teal, axis: "yR", order: 1 },
    ],
  },
  {
    box: { x: 0, y: 420, w: 780, h: 430 },
    area: { l: 86, t: 460, r: 656, b: 747 },
    rightEdge: 684,
    right: { min: 0, max: 45, step: 5, title: "温度(℃)", tx: 702, ty: 597 },
    yTitle: { x: 33, y: 595 },
    xTitle: { x: 374, y: 828 },
    weekTop: 757, yearY: 803, sepBottom: 812,
    legend: { x: 485, y: 430, gap: 19.5 },
    series: [
      { label: "ILI%", values: iliPct, color: C.blue, axis: "yL", order: 0 },
      { label: "最高气温（℃）", values: maxTempC, color: C.orange, axis: "yR", order: 2 },
      { label: "最低气温（℃）", values: minTempC, color: C.navy, axis: "yR", order: 1 },
    ],
  },
  {
    box: { x: 780, y: 408, w: 780, h: 442 },
    area: { l: 889, t: 459, r: 1477, b: 720 },
    rightEdge: 1521,
    right: { min: 0, max: 100, step: 20, title: "平均相对湿度(%)", tx: 1537, ty: 595 },
    yTitle: { x: 838, y: 612 },
    xTitle: { x: 1185, y: 828 },
    weekTop: 731, yearY: 781, sepBottom: 793,
    legend: { x: 1276, y: 420, gap: 20 },
    series: [
      { label: "ILI%", values: iliPct, color: C.blue, axis: "yL", order: 0 },
      { label: "平均相对湿（%）", values: humidityPct, color: C.red, axis: "yR", order: 1 },
    ],
  },
  {
    box: { x: 0, y: 850, w: 780, h: 490 },
    area: { l: 86, t: 900, r: 657, b: 1217 },
    rightEdge: 688,
    right: { min: 0, max: 30, step: 10, title: "降水量(mm)", tx: 715, ty: 1045 },
    yTitle: { x: 33, y: 1040 },
    xTitle: { x: 374, y: 1312 },
    weekTop: 1227, yearY: 1278, sepBottom: 1292,
    legend: { x: 490, y: 876, gap: 23 },
    series: [
      { label: "ILI%", values: iliPct, color: C.blue, axis: "yL", order: 1 },
      { label: "降水量（mm）", values: rainMm, color: C.green, axis: "yR", order: 0 },
    ],
  },
  {
    box: { x: 780, y: 850, w: 780, h: 490 },
    area: { l: 904, t: 880, r: 1478, b: 1221 },
    rightEdge: 1509,
    right: { min: 0, max: 10, step: 2, title: "日平均风速(m/s)", tx: 1530, ty: 1050 },
    yTitle: { x: 855, y: 1020 },
    xTitle: { x: 1185, y: 1311 },
    weekTop: 1232, yearY: 1271, sepBottom: 1284,
    legend: { x: 1276, y: 892, gap: 24 },
    series: [
      { label: "ILI%", values: iliPct, color: C.blue, axis: "yL", order: 1 },
      { label: "日平均风速（m/s）", values: windMs, color: C.purple, axis: "yR", order: 0 },
    ],
  },
];

// draws the two-row time axis, titles and the corner key
const makeFrame = (p: Panel) => ({
  id: "frame",
  afterDraw(chart: any) {
    const { ctx, chartArea } = chart;
    const xs = chart.scales.x;
    const ox = p.box.x;
    const oy = p.box.y;
    ctx.save();
    ctx.fillStyle = INK;
    ctx.strokeStyle = INK;

    // year separators
    ctx.lineWidth = 2;
    for (let i = 0; i <= YEARS.length; i++) {
      const px = Math.round(xs.getPixelForValue(i * WEEKS_PER_YEAR));
      ctx.beginPath();
      ctx.moveTo(px, chartArea.bottom);
      ctx.lineTo(px, p.sepBottom - oy);
      ctx.stroke();
    }

    // week labels: digits turned, 周 upright
    YEARS.forEach((year, yi) => {
      WEEK_TICKS[yi].forEach((wk, k) => {
        const cx = xs.getPixelForValue(yi * WEEKS_PER_YEAR + 13 * k + 6);
        const top = p.weekTop - oy;
        ctx.font = `bold 13px ${SERIF}`;
        const dw = ctx.measureText(wk).width;
        ctx.save();
        ctx.translate(cx, top);
        ctx.rotate(Math.PI / 2);
        ctx.textAlign = "left";
        ctx.textBaseline = "middle";
        ctx.fillText(wk, 0, 0);
        ctx.restore();
        ctx.font = `bold 12px ${SERIF}`;
        ctx.textAlign = "center";
        ctx.textBaseline = "top";
        ctx.fillText("周", cx, top + dw + 1);
      });
      const mid = xs.getPixelForValue(yi * WEEKS_PER_YEAR + WEEKS_PER_YEAR / 2);
      ctx.font = `bold 13px ${SERIF}`;
      ctx.textAlign = "center";
      ctx.textBaseline = "middle";
      ctx.fillText(year, mid, p.yearY - oy);
    });

    // axis titles
    ctx.font = `22px ${SERIF}`;
    ctx.textAlign = "center";
    ctx.textBaseline = "middle";
    ctx.fillText("时间（年—周）", p.xTitle.x - ox, p.xTitle.y - oy);

    ctx.font = `23px ${SERIF}`;
    ctx.save();
    ctx.translate(p.yTitle.x - ox, p.yTitle.y - oy);
    ctx.rotate(-Math.PI / 2);
    ctx.fillText("ILI%", 0, 0);
    ctx.restore();
    ctx.save();
    ctx.translate(p.right.tx - ox, p.right.ty - oy);
    ctx.rotate(-Math.PI / 2);
    ctx.fillText(p.right.title, 0, 0);
    ctx.restore();

    // key
    ctx.font = `19px ${SERIF}`;
    ctx.textAlign = "left";
    ctx.textBaseline = "middle";
    p.series.forEach((s, i) => {
      const y = p.legend.y + i * p.legend.gap - oy;
      const x = p.legend.x - ox;
      ctx.strokeStyle = s.color;
      ctx.lineWidth = 4;
      ctx.lineCap = "round";
      ctx.beginPath();
      ctx.moveTo(x, y);
      ctx.lineTo(x + 34, y);
      ctx.stroke();
      ctx.fillStyle = INK;
      ctx.fillText(s.label, x + 38, y);
    });
    ctx.restore();
  },
});

const tickFont = { family: SERIF, size: 23 };

const buildConfig = (p: Panel): any => ({
  type: "line",
  data: {
    datasets: p.series.map((s) => ({
      label: s.label,
      data: toPoints(s.values),
      borderColor: s.color,
      backgroundColor: s.color,
      borderWidth: 3.5,
      borderJoinStyle: "round",
      pointRadius: 0,
      tension: 0,
      yAxisID: s.axis,
      order: s.order,
    })),
  },
  options: {
    animation: false,
    responsive: false,
    devicePixelRatio: 1,
    events: [],
    layout: {
      padding: {
        left: 0,
        top: p.area.t - p.box.y,
        right: p.box.x + p.box.w - p.rightEdge,
        bottom: 0,
      },
    },
    plugins: { legend: { display: false }, tooltip: { enabled: false } },
    scales: {
      x: {
        type: "linear",
        min: 0,
        max: TOTAL_WEEKS,
        ticks: { display: false },
        grid: { display: false },
        border: { color: INK, width: 2 },
        afterFit: (s: any) => {
          s.height = p.box.y + p.box.h - p.area.b;
        },
      },
      yL: {
        position: "left",
        min: 0,
        max: 50,
        ticks: { stepSize: 10, color: INK, font: tickFont, padding: 3 },
        grid: { drawOnChartArea: false, color: INK, tickLength: 5, lineWidth: 1.5 },
        border: { color: INK, width: 2 },
        afterFit: (s: any) => {
          s.width = p.area.l - p.box.x;
        },
      },
      yR: {
        position: "right",
        min: p.right.min,
        max: p.right.max,
        ticks: {
          stepSize: p.right.step,
          color: INK,
          font: tickFont,
          crossAlign: "far",
          callback: (v: number) => (v >= 1000 ? "1 000" : String(v)),
        },
        grid: { drawOnChartArea: false, color: INK, tickLength: 5, lineWidth: 1.5 },
        border: { color: INK, width: 2 },
        afterFit: (s: any) => {
          s.width = p.rightEdge - p.area.r;
        },
      },
    },
  },
  plugins: [makeFrame(p)],
});

function PanelChart({ panel }: { panel: Panel }) {
  const canvasRef = useRef<HTMLCanvasElement>(null);
  useEffect(() => {
    if (!canvasRef.current) return;
    const chart = new Chart(canvasRef.current, buildConfig(panel));
    return () => chart.destroy();
  }, [panel]);
  const { x, y, w, h } = panel.box;
  return (
    <canvas
      ref={canvasRef}
      width={w}
      height={h}
      style={{ position: "absolute", left: x, top: y, width: w, height: h }}
    />
  );
}

export default function App() {
  return (
    <div style={{ position: "absolute", left: 0, top: 0, width: 1560, height: 1340, background: "#fff" }}>
      {PANELS.map((p, i) => (
        <PanelChart key={i} panel={p} />
      ))}
    </div>
  );
}
